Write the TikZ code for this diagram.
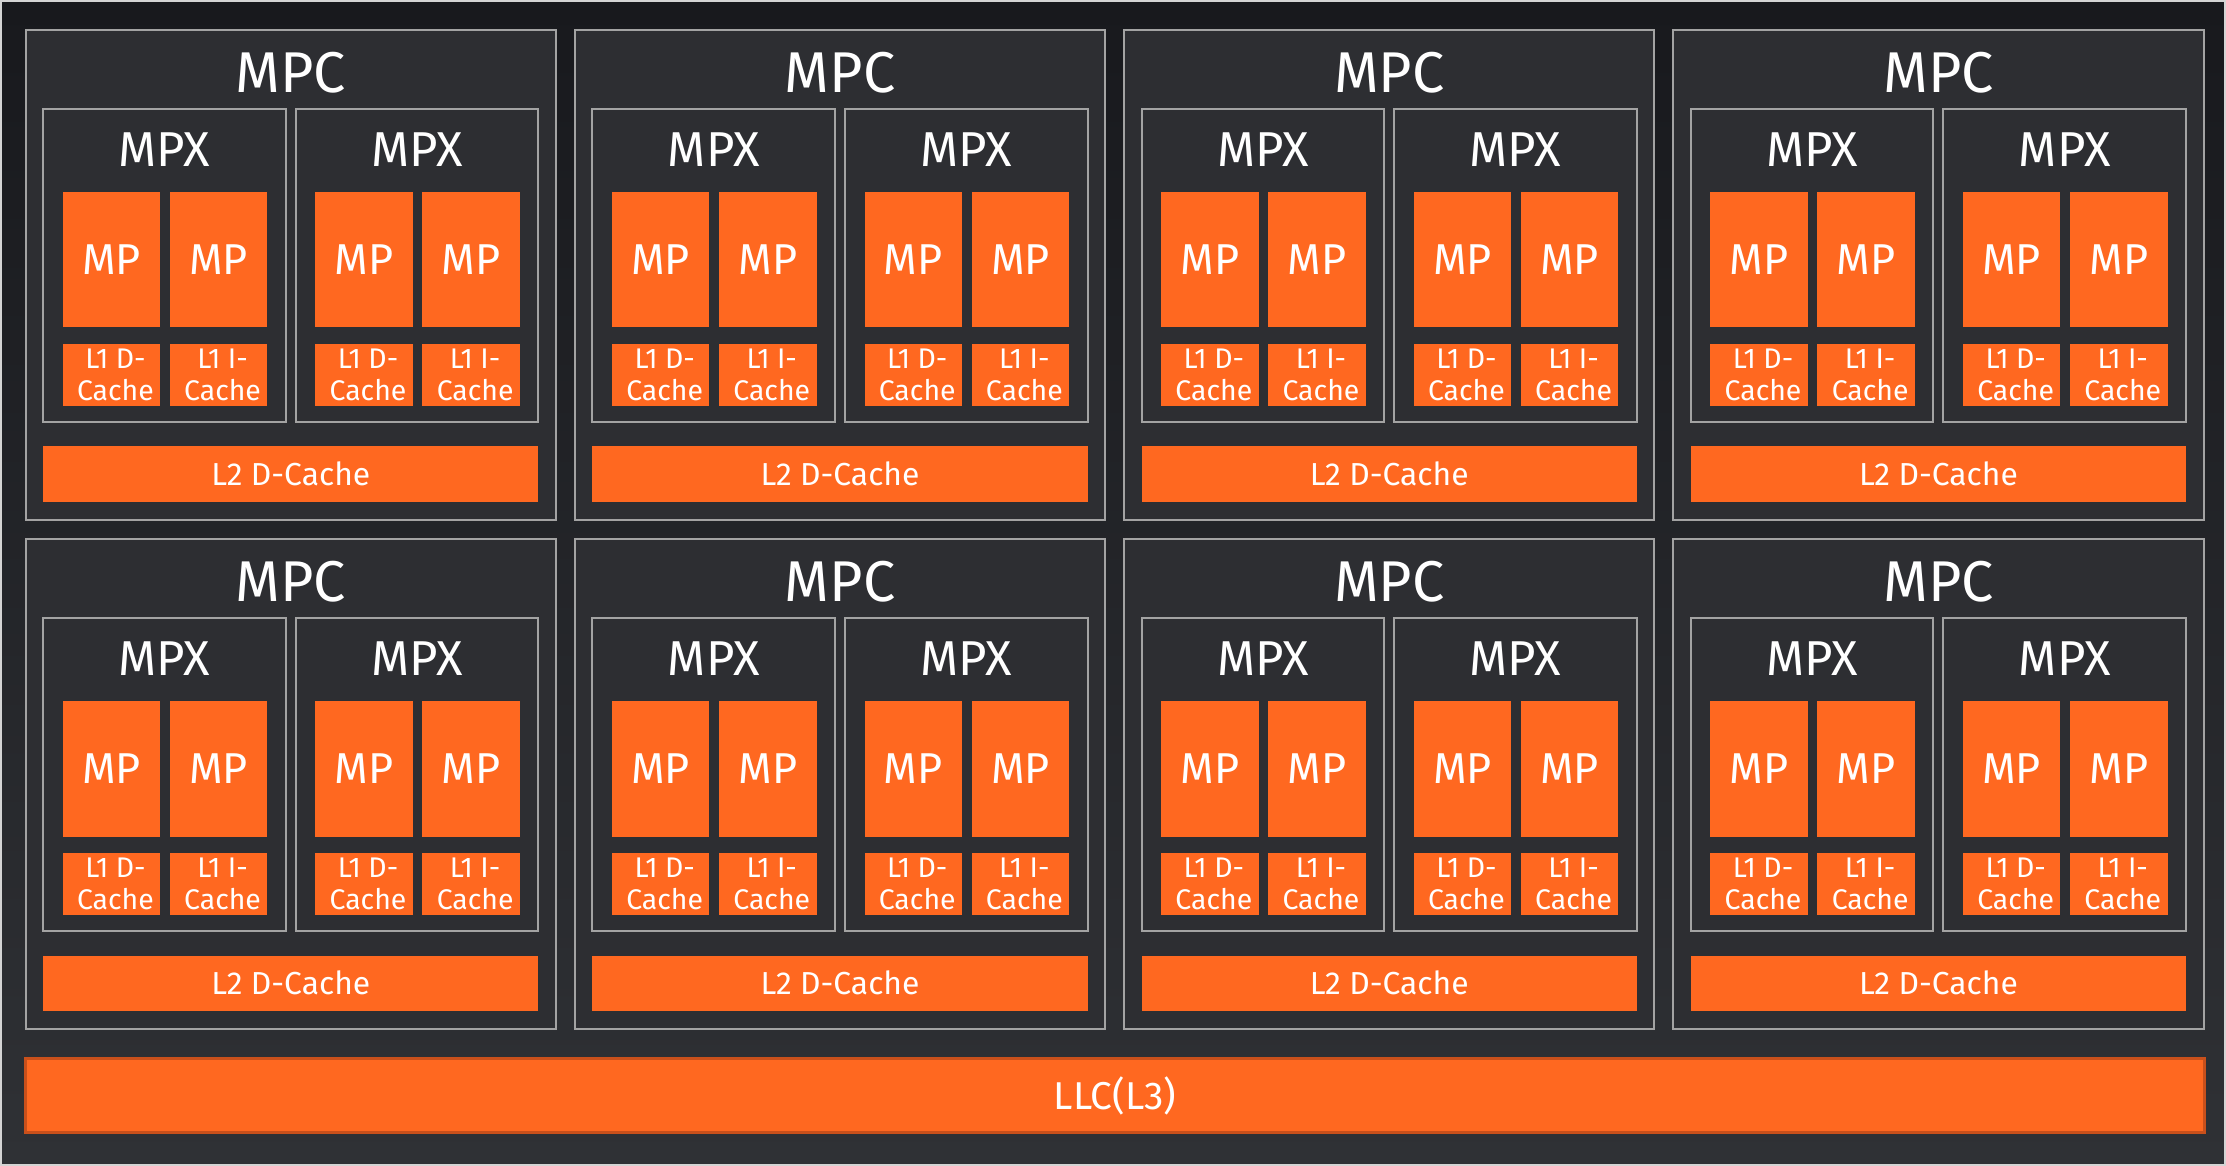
\documentclass[tikz,border=0pt]{standalone}
\usepackage{fontspec}
\setmainfont{Fira Sans}
\usetikzlibrary{calc}
\definecolor{bgtop}{HTML}{18191D}
\definecolor{bgbot}{HTML}{2F3135}
\definecolor{boxfill}{HTML}{2D2E32}
\definecolor{boxline}{HTML}{A3A3A3}
\definecolor{frameline}{HTML}{D4D4D4}
\definecolor{orng}{HTML}{FF6820}
\definecolor{llcline}{HTML}{C9501B}
\tikzset{
  grayframe/.style={draw=boxline, line width=2pt, fill=boxfill, inner sep=0pt, outer sep=0pt, anchor=north west},
  mpcbox/.style={grayframe, minimum width=530.2pt, minimum height=490pt},
  mpxbox/.style={grayframe, minimum width=242.6pt, minimum height=312.5pt},
  orbox/.style={fill=orng, draw=none, inner sep=0pt, outer sep=0pt, anchor=north west, text=white, align=center},
  mpbox/.style={orbox, minimum width=97.5pt, minimum height=135.3pt, font=\fontsize{43.2}{46}\selectfont},
  l1box/.style={orbox, minimum width=97.5pt, minimum height=61.7pt},
  l1text/.style={text=white, inner sep=0pt, align=center, font=\fontsize{28.4}{31.8}\selectfont},
  l2box/.style={orbox, minimum width=495.2pt, minimum height=55.5pt, font=\fontsize{31.8}{34}\selectfont},
  mpclabel/.style={text=white, inner sep=0pt, font=\fontsize{57.5}{60}\selectfont},
  mpxlabel/.style={text=white, inner sep=0pt, font=\fontsize{49}{52}\selectfont},
  llcbox/.style={fill=orng, draw=llcline, line width=3pt, inner sep=0pt, outer sep=0pt, anchor=north west,
    minimum width=2178.3pt, minimum height=73.4pt, text=white, font=\fontsize{38.8}{42}\selectfont},
}
\begin{document}
\begin{tikzpicture}
\useasboundingbox (0,0) rectangle (2226pt,-1166pt);
\shade[top color=bgtop, bottom color=bgbot] (0,0) rectangle (2226pt,-1166pt);
\begin{scope}[x=1pt,y=-1pt]
  \draw[frameline, line width=2.4pt] (1.2,1.2) rectangle (2224.8,1164.8);
  \foreach \r in {0,1} {
    \foreach \c in {0,1,2,3} {
      \pgfmathsetmacro{\mx}{25.8+549.2*\c}
      \pgfmathsetmacro{\my}{30+509.3*\r}
      \node[mpcbox] (mpc-\r-\c) at (\mx,\my) {};
      \node[mpclabel] (mpcl-\r-\c) at (\mx+265.1,\my+42.2) {MPC};
      \foreach \k/\kx in {0/17.4,1/270} {
        \node[mpxbox] (mpx-\r-\c-\k) at (\mx+\kx,\my+79) {};
        \node[mpxlabel] (mpxl-\r-\c-\k) at (\mx+\kx+121.3,\my+119.8) {MPX};
        \foreach \j/\jx/\lt in {0/19.5/D,1/126.6/I} {
          \node[mpbox] (mp-\r-\c-\k-\j) at (\mx+\kx+\jx,\my+162) {MP};
          \node[l1box] (l1-\r-\c-\k-\j) at (\mx+\kx+\jx,\my+314) {};
          \node[l1text, xshift=4pt] (l1t-\r-\c-\k-\j) at (l1-\r-\c-\k-\j.center) {L1 \lt-\\Cache};
        }
      }
      \node[l2box] (l2-\r-\c) at (\mx+17.4,\my+416.2) {L2 D-Cache};
    }
  }
  \node[llcbox] (llc) at (25.9,1058.8) {LLC(L3)};
\end{scope}
\end{tikzpicture}
\end{document}
